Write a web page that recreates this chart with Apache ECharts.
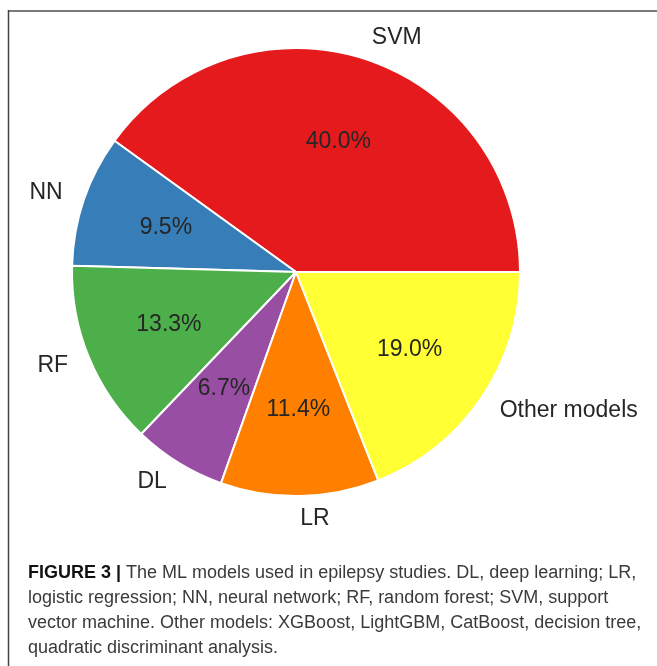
<!DOCTYPE html>
<html>
<head>
<meta charset="utf-8">
<script src="https://cdn.jsdelivr.net/npm/echarts@6/dist/echarts.min.js"></script>
<style>
  html, body { margin: 0; padding: 0; background: #fff; }
  #chart { width: 657px; height: 666px; }
</style>
</head>
<body>
<div id="chart"></div>
<script>
// model names and shares (percent)
var models = ['SVM', 'NN', 'RF', 'DL', 'LR', 'Other models'];
var shares = [40.0, 9.5, 13.3, 6.7, 11.4, 19.0];
var colors = ['#e41a1c', '#377eb8', '#4daf4a', '#984ea3', '#ff7f00', '#ffff33'];

var captionLines = [
  '{b|FIGURE 3 |} The ML models used in epilepsy studies. DL, deep learning; LR,',
  'logistic regression; NN, neural network; RF, random forest; SVM, support',
  'vector machine. Other models: XGBoost, LightGBM, CatBoost, decision tree,',
  'quadratic discriminant analysis.'
];

var R = 224;
var center = [296, 272];

var pieData = models.map(function (name, i) {
  return { name: name, value: shares[i], itemStyle: { color: colors[i] } };
});

var chart = echarts.init(document.getElementById('chart'));
chart.setOption({
  animation: false,
  title: {
    left: 23,
    top: 556,
    text: captionLines.join('\n'),
    textStyle: {
      fontFamily: 'Liberation Sans',
      fontSize: 18,
      fontWeight: 'normal',
      color: '#3a3a3a',
      lineHeight: 25,
      rich: {
        b: { fontFamily: 'Liberation Sans', fontSize: 18, fontWeight: 'bold', color: '#111', lineHeight: 25 }
      }
    }
  },
  graphic: [
    { type: 'line', shape: { x1: 8, y1: 11, x2: 657, y2: 11 }, style: { stroke: '#7a7a7a', lineWidth: 2 } },
    { type: 'line', shape: { x1: 8.5, y1: 10, x2: 8.5, y2: 666 }, style: { stroke: '#444', lineWidth: 1.5 } }
  ],
  series: [
    {
      // slices + outer name labels
      type: 'pie',
      center: center,
      radius: [0, R],
      startAngle: 0,
      clockwise: false,
      avoidLabelOverlap: false,
      silent: true,
      itemStyle: { borderColor: '#fff', borderWidth: 2 },
      label: {
        show: true,
        position: 'outside',
        formatter: '{b}',
        fontFamily: 'Liberation Sans',
        fontSize: 23,
        color: '#262626',
        distanceToLabelLine: 0
      },
      labelLine: { show: false, length: R * 0.1, length2: 0 },
      data: pieData
    },
    {
      // percentage labels at 0.6 R
      type: 'pie',
      center: center,
      radius: [R * 0.2, R],
      startAngle: 0,
      clockwise: false,
      avoidLabelOverlap: false,
      silent: true,
      itemStyle: { color: 'rgba(0,0,0,0)', borderWidth: 0 },
      label: {
        show: true,
        position: 'inside',
        formatter: function (p) { return p.value.toFixed(1) + '%'; },
        fontFamily: 'Liberation Sans',
        fontSize: 23,
        color: '#262626'
      },
      labelLine: { show: false },
      data: models.map(function (name, i) { return { name: name, value: shares[i] }; })
    }
  ]
});
</script>
</body>
</html>
